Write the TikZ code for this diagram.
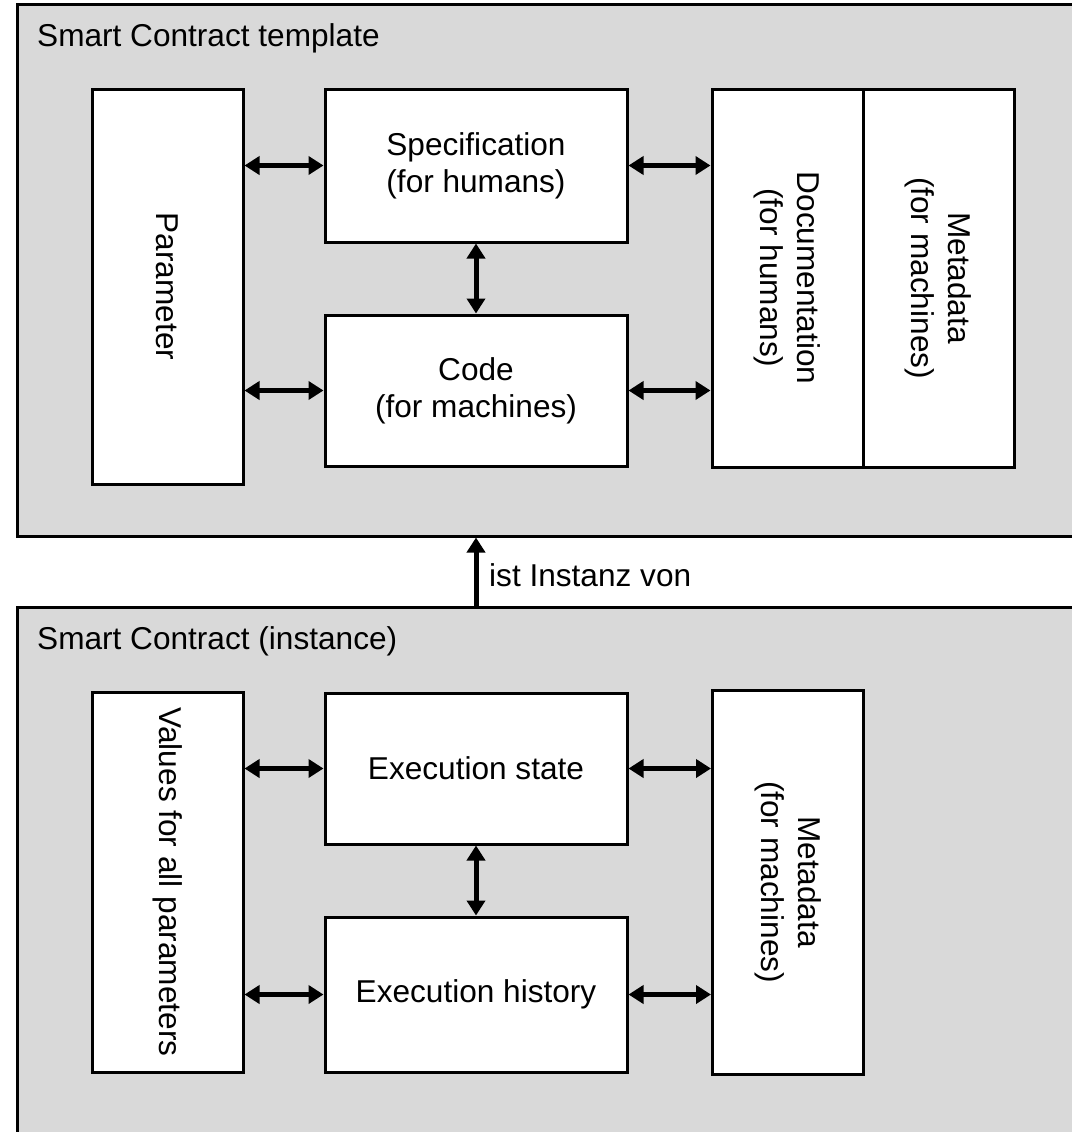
\documentclass[tikz,border=0pt]{standalone}
\usepackage{fontspec}
\setmainfont{Liberation Sans}
\usetikzlibrary{arrows.meta}
\usetikzlibrary{positioning}

\newcommand{\figfont}{\fontsize{31.6}{37}\selectfont}
\definecolor{framegray}{HTML}{D9D9D9}

\tikzset{
    frame/.style={draw, fill=framegray, line width=3pt, inner sep=0pt},
    part/.style={draw, fill=white, line width=3pt, inner sep=0pt, align=center, font=\figfont},
    link/.style={{Triangle[length=15pt,width=18pt]}-{Triangle[length=15pt,width=18pt]}, line width=5pt},
}

\begin{document}
\begin{tikzpicture}[x=1pt,y=-1pt]

    \useasboundingbox (0,0) rectangle (1071,1132);

    % template frame
    \node[frame, minimum width=1073pt, minimum height=531pt] (tmpl) at (553.5,270.5) {};
    \node[anchor=base west, font=\figfont, inner sep=0pt] (tmpltitle) at (37,47) {Smart Contract template};

    % instance frame
    \node[frame, minimum width=1073pt, minimum height=543pt] (inst) at (553.5,878.5) {};
    \node[anchor=base west, font=\figfont, inner sep=0pt] (insttitle) at (37,649) {Smart Contract (instance)};

    % template parts
    \node[part, rotate=-90, minimum width=395pt, minimum height=151pt] (param) at (167.5,286.5) {Parameter};
    \node[part, minimum width=302pt, minimum height=153pt] (spec) at (476,165.5) {Specification\\(for humans)};
    \node[part, minimum width=302pt, minimum height=151pt] (code) at (476,390.5) {Code\\(for machines)};
    \node[part, rotate=-90, minimum width=378pt, minimum height=151pt] (doc) at (787.5,278) {Documentation\\(for humans)};
    \node[part, rotate=-90, minimum width=378pt, minimum height=151pt] (meta) at (938.5,278) {Metadata\\(for machines)};

    % instance parts
    \node[part, rotate=-90, minimum width=380pt, minimum height=151pt] (vals) at (167.5,882) {Values for all parameters};
    \node[part, minimum width=302pt, minimum height=151pt] (state) at (476,768.5) {Execution state};
    \node[part, minimum width=302pt, minimum height=155pt] (hist) at (476,994.5) {Execution history};
    \node[part, rotate=-90, minimum width=384pt, minimum height=151pt] (imeta) at (788,882) {Metadata\\(for machines)};

    % links in template
    \draw[link] (param.north |- spec.west) -- (spec.west);
    \draw[link] (param.north |- code.west) -- (code.west);
    \draw[link] (spec.east) -- (doc.south |- spec.east);
    \draw[link] (code.east) -- (doc.south |- code.east);
    \draw[link] (spec.south) -- (code.north);

    % links in instance
    \draw[link] (vals.north |- state.west) -- (state.west);
    \draw[link] (vals.north |- hist.west) -- (hist.west);
    \draw[link] (state.east) -- (imeta.south |- state.east);
    \draw[link] (hist.east) -- (imeta.south |- hist.east);
    \draw[link] (state.south) -- (hist.north);

    % instance of
    \draw[-{Triangle[length=15pt,width=18pt]}, line width=5pt] (state.north |- inst.north) -- (state.north |- tmpl.south);
    \node[anchor=base west, font=\figfont, inner sep=0pt] (instof) at (489,586) {ist Instanz von};

\end{tikzpicture}
\end{document}
